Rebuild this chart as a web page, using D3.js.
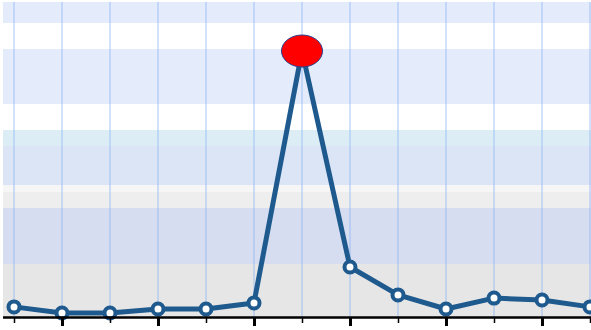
<!DOCTYPE html>
<html>
<head>
<meta charset="utf-8">
<script src="https://cdn.jsdelivr.net/npm/d3@7"></script>
<style>
  html, body { margin: 0; padding: 0; background: #ffffff; }
  svg { display: block; }
</style>
</head>
<body>
<svg id="chart" width="591" height="330"></svg>
<script>
// ---- data ----
const categories = [0, 1, 2, 3, 4, 5, 6, 7, 8, 9, 10, 11, 12];
const values = [3.8, 1.5, 1.5, 3.0, 3.0, 5.3, 100, 18.8, 8.3, 3.0, 7.1, 6.4, 3.8];
const highlightIndex = 6;
const majorTicks = [1, 3, 5, 7, 9, 11];
const minorTicks = [0, 2, 4, 6, 8, 10, 12];

// ---- layout / style ----
const W = 591, H = 330;
const plot = { left: 3, right: 591, top: 2, bottom: 317 };
// decorative background bands (pixel rows)
const bands = [
  { y0: 2,   y1: 23,  c: "#e4ecfc" },
  { y0: 23,  y1: 49,  c: "#ffffff" },
  { y0: 49,  y1: 104, c: "#e4ecfc" },
  { y0: 104, y1: 130, c: "#ffffff" },
  { y0: 130, y1: 146, c: "#ddedf6" },
  { y0: 146, y1: 185, c: "#dce5f6" },
  { y0: 185, y1: 192, c: "#f6f6f6" },
  { y0: 192, y1: 208, c: "#eeeeee" },
  { y0: 208, y1: 264, c: "#d6ddf0" },
  { y0: 264, y1: 317, c: "#e6e6e6" }
];

const svg = d3.select("#chart");

const x = d3.scaleLinear().domain([0, 12]).range([14, 590]);
const y = d3.scaleLinear().domain([0, 100]).range([plot.bottom, 51]);

// background bands
svg.append("g").selectAll("rect").data(bands).join("rect")
  .attr("x", plot.left).attr("width", plot.right - plot.left)
  .attr("y", d => d.y0).attr("height", d => d.y1 - d.y0)
  .attr("fill", d => d.c);

// vertical grid lines
svg.append("g").selectAll("line").data(categories).join("line")
  .attr("x1", d => x(d)).attr("x2", d => x(d))
  .attr("y1", plot.top).attr("y2", plot.bottom)
  .attr("stroke", "rgba(140,180,245,0.38)")
  .attr("stroke-width", 2);

// line
const lineGen = d3.line().x((d, i) => x(categories[i])).y(d => y(d));
svg.append("path")
  .datum(values)
  .attr("d", lineGen)
  .attr("fill", "none")
  .attr("stroke", "#1f5a8e")
  .attr("stroke-width", 5)
  .attr("stroke-linejoin", "round");

// markers
svg.append("g").selectAll("circle")
  .data(values.map((v, i) => ({ v, i })).filter(d => d.i !== highlightIndex))
  .join("circle")
  .attr("cx", d => x(categories[d.i]))
  .attr("cy", d => y(d.v))
  .attr("r", 5.5)
  .attr("fill", "#ffffff")
  .attr("stroke", "#1f5a8e")
  .attr("stroke-width", 4);

// highlighted point
svg.append("ellipse")
  .attr("cx", x(categories[highlightIndex]))
  .attr("cy", y(values[highlightIndex]))
  .attr("rx", 20.5).attr("ry", 16)
  .attr("fill", "#ff0000")
  .attr("stroke", "#2b3f8c")
  .attr("stroke-width", 1);

// x axis
const axisG = svg.append("g").attr("transform", `translate(0,${plot.bottom})`);
axisG.append("line")
  .attr("x1", plot.left).attr("x2", plot.right)
  .attr("y1", 0.5).attr("y2", 0.5)
  .attr("stroke", "#000").attr("stroke-width", 2.5);

const majorAxis = d3.axisBottom(x).tickValues(majorTicks).tickSize(9).tickFormat("");
const minorAxis = d3.axisBottom(x).tickValues(minorTicks).tickSize(6).tickFormat("");
const gMaj = axisG.append("g").call(majorAxis);
const gMin = axisG.append("g").call(minorAxis);
[gMaj, gMin].forEach(g => g.select(".domain").remove());
gMaj.selectAll(".tick line").attr("stroke", "#000").attr("stroke-width", 3);
gMin.selectAll(".tick line").attr("stroke", "#000").attr("stroke-width", 1.5);
</script>
</body>
</html>
